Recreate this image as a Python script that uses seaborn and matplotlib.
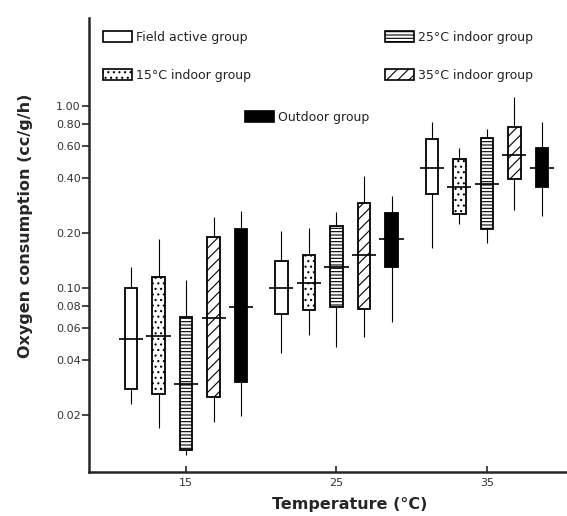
import numpy as np
import pandas as pd
import matplotlib
matplotlib.use('Agg')
import matplotlib.pyplot as plt
from matplotlib.patches import Patch
from matplotlib.legend import Legend
from matplotlib.ticker import NullLocator
import seaborn as sns

# Oxygen consumption by temperature and acclimation group
temps = [15, 25, 35]
groups = ['Field active group', '15°C indoor group', '25°C indoor group',
          '35°C indoor group', 'Outdoor group']
# order inside each list: temp 15 (5 groups), temp 25 (5 groups), temp 35 (5 groups)
whisker_low = [0.023, 0.017, 0.0121, 0.0184, 0.0198,
               0.044, 0.0552, 0.0476, 0.054, 0.065,
               0.165, 0.225, 0.177, 0.268, 0.247]
box_low = [0.028, 0.026, 0.0129, 0.0252, 0.0306,
           0.072, 0.0757, 0.0783, 0.0764, 0.131,
           0.327, 0.255, 0.21, 0.397, 0.357]
median = [0.0525, 0.0545, 0.0297, 0.0687, 0.0787,
          0.100, 0.107, 0.131, 0.151, 0.185,
          0.455, 0.357, 0.372, 0.538, 0.459]
box_high = [0.10, 0.115, 0.069, 0.191, 0.211,
            0.141, 0.152, 0.219, 0.294, 0.257,
            0.656, 0.509, 0.67, 0.764, 0.586]
whisker_high = [0.13, 0.186, 0.11, 0.246, 0.266,
                0.206, 0.213, 0.263, 0.41, 0.32,
                0.82, 0.586, 0.745, 1.12, 0.82]
ytick_vals = [0.02, 0.04, 0.06, 0.08, 0.10, 0.20, 0.40, 0.60, 0.80, 1.00]

face_colors = ['white', 'white', 'white', 'white', 'black']
hatches = ['', '...', '-----', '///', '']

# five numbers per box -> seaborn recomputes exactly the same summary
rows = []
for i in range(len(median)):
    t = temps[i // len(groups)]
    g = groups[i % len(groups)]
    for v in (whisker_low[i], box_low[i], median[i], box_high[i], whisker_high[i]):
        rows.append({'temp': t, 'group': g, 'value': v})
df = pd.DataFrame(rows)

sns.set_style('ticks')
plt.rcParams['hatch.linewidth'] = 0.8

fig, ax = plt.subplots(figsize=(5.67, 5.16), dpi=100)
fig.subplots_adjust(left=0.157, right=0.998, bottom=0.0853, top=0.965)

width = 0.915
sns.boxplot(data=df, x='temp', y='value', hue='group', hue_order=groups,
            palette=dict(zip(groups, face_colors)), saturation=1,
            native_scale=True, log_scale=(False, True), width=width, gap=0.546,
            whis=(0, 100), showcaps=False, fliersize=0, linecolor='black',
            linewidth=1.3, whiskerprops={'linewidth': 0.8},
            medianprops={'gid': 'median', 'linewidth': 1.2},
            legend=False, ax=ax)

# hatch each box according to its slot within the temperature group
slot = 10 * width / len(groups)
for p in ax.patches:
    xc = p.get_path().vertices[:, 0].mean()
    t = 10 * round((xc - 5) / 10) + 5
    k = int(round((xc - t) / slot + (len(groups) - 1) / 2))
    p.set_hatch(hatches[k])
    p.set_edgecolor('black')

# medians stick out beyond the box
for ln in ax.lines:
    if ln.get_gid() == 'median':
        xd = np.asarray(ln.get_xdata(), dtype=float)
        c = xd.mean()
        ln.set_xdata([c - 0.8, c + 0.8])
        ln.set_color('black')

ax.set_xlim(8.55, 40.25)
ax.set_ylim(0.00975, 3.04)
ax.set_xticks(temps)
ax.set_xticklabels([str(t) for t in temps])
ax.set_yticks(ytick_vals)
ax.set_yticklabels([f'{v:.2f}' for v in ytick_vals])
ax.yaxis.set_minor_locator(NullLocator())
ax.xaxis.set_minor_locator(NullLocator())
ax.tick_params(axis='y', direction='out', length=5, width=1.2, pad=1,
               labelsize=8, labelcolor='#333333')
ax.tick_params(axis='x', direction='in', length=4, width=1.2, pad=4,
               labelsize=8, labelcolor='#333333')
sns.despine(ax=ax)
for s in ['left', 'bottom']:
    ax.spines[s].set_linewidth(1.8)

ax.set_ylabel('Oxygen consumption (cc/g/h)', fontsize=11.5, fontweight='bold')
ax.yaxis.set_label_coords(-0.117, 0.542)
ax.set_xlabel('Temperature (°C)', fontsize=11.5, fontweight='bold')
ax.xaxis.set_label_coords(0.547, -0.056)

# legend entries laid out as in the original figure
legend_pos = [(0.029, 0.958), (0.029, 0.874), (0.621, 0.958), (0.621, 0.874), (0.327, 0.782)]
for g, fc, h, pos in zip(groups, face_colors, hatches, legend_pos):
    handle = Patch(facecolor=fc, edgecolor='black', hatch=h, linewidth=1.2)
    leg = Legend(ax, [handle], [g], loc='center left', bbox_to_anchor=pos,
                 frameon=False, borderpad=0, borderaxespad=0,
                 handlelength=2.3, handleheight=1.0, handletextpad=0.35,
                 fontsize=9)
    for txt in leg.get_texts():
        txt.set_color('#222222')
    ax.add_artist(leg)

fig.savefig('out.png', dpi=100)
